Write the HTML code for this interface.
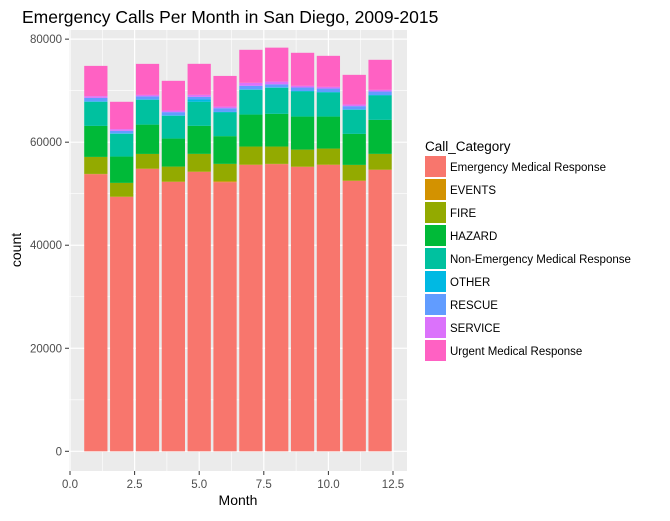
<!DOCTYPE html>
<html><head><meta charset="utf-8"><style>
body{margin:0;background:#fff;font-family:"Liberation Sans",sans-serif}
svg text{font-family:"Liberation Sans",sans-serif}
</style></head><body>
<svg id="chart" width="670" height="516" xmlns="http://www.w3.org/2000/svg">
<text x="22" y="23" font-size="17.5" fill="#000">Emergency Calls Per Month in San Diego, 2009-2015</text>
<rect x="69" y="30" width="338" height="441" fill="#EBEBEB"/>
<g id="grid"></g><g id="bars"></g><g id="axes"></g><g id="legend"></g>
<text x="238" y="505" font-size="14" text-anchor="middle" fill="#000">Month</text>
<text transform="translate(21,250) rotate(-90)" font-size="14" text-anchor="middle" fill="#000">count</text>
</svg>
<script>
const months=[1,2,3,4,5,6,7,8,9,10,11,12];
const categories=["Emergency Medical Response","EVENTS","FIRE","HAZARD","Non-Emergency Medical Response","OTHER","RESCUE","SERVICE","Urgent Medical Response"];
const colors=["#F8766D","#D39200","#93AA00","#00BA38","#00C19F","#00B9E3","#619CFF","#DB72FB","#FF61C3"];
const emr=[53790,49390,54820,52300,54240,52240,55600,55740,55210,55600,52490,54630];
const events=[50,50,50,50,50,190,50,50,50,50,50,50];
const fire=[3300,2660,2850,2910,3440,3360,3500,3360,3300,3110,3050,3050];
const hazard=[6020,5110,5690,5440,5440,5380,6210,6350,6410,6210,6020,6600];
const nonEmerg=[4660,4410,4800,4410,4660,4600,4800,5050,4860,4660,4660,4720];
const other=[100,100,100,100,450,100,100,100,100,100,100,100];
const rescue=[680,490,580,620,520,720,680,580,680,680,620,680];
const service=[330,330,290,310,390,310,580,520,330,330,310,330];
const urgent=[5880,5300,6020,5770,6020,5960,6410,6600,6410,6020,5770,5830];
const series=[emr,events,fire,hazard,nonEmerg,other,rescue,service,urgent];
const yTicks=[0,20000,40000,60000,80000];
const xTicks=[0,2.5,5,7.5,10,12.5];
const xTickLabels=["0.0","2.5","5.0","7.5","10.0","12.5"];
const NS="http://www.w3.org/2000/svg";
const X=v=>70+v*25.84, Y=v=>451.3-v*0.005152;
function mk(tag,attrs,parent){const e=document.createElementNS(NS,tag);for(const k in attrs)e.setAttribute(k,attrs[k]);parent.appendChild(e);return e;}
const grid=document.getElementById('grid'),bars=document.getElementById('bars'),axes=document.getElementById('axes'),legend=document.getElementById('legend');
for(let i=0;i<yTicks.length;i++){
 if(i<yTicks.length-1){const m=(yTicks[i]+yTicks[i+1])/2;const l=mk('line',{x1:69,x2:407,y1:Y(m),y2:Y(m),stroke:'#fff','stroke-width':0.6},grid);}
 const g=mk('line',{x1:69,x2:407,y1:Y(yTicks[i]),y2:Y(yTicks[i]),stroke:'#fff','stroke-width':1.2},grid);
 
 const t=mk('text',{x:62,y:Y(yTicks[i])+4,'font-size':11.5,'text-anchor':'end',fill:'#4D4D4D'},axes);t.textContent=yTicks[i];
 
 mk('line',{x1:65,x2:69,y1:Y(yTicks[i]),y2:Y(yTicks[i]),stroke:'#333','stroke-width':1},axes);
}
for(let i=0;i<xTicks.length;i++){
 if(i<xTicks.length-1){const m=(xTicks[i]+xTicks[i+1])/2;const l=mk('line',{x1:X(m),x2:X(m),y1:30,y2:471,stroke:'#fff','stroke-width':0.6},grid);}
 const g=mk('line',{x1:X(xTicks[i]),x2:X(xTicks[i]),y1:30,y2:471,stroke:'#fff','stroke-width':1.2},grid);
 
 mk('line',{x1:X(xTicks[i]),x2:X(xTicks[i]),y1:471,y2:475,stroke:'#333','stroke-width':1},axes);
 const t=mk('text',{x:X(xTicks[i]),y:488,'font-size':11.5,'text-anchor':'middle',fill:'#4D4D4D'},axes);t.textContent=xTickLabels[i];
 
}
months.forEach((m,i)=>{let cum=0;
 series.forEach((s,j)=>{const v=s[i];const r=mk('rect',{x:X(m-0.45),width:X(m+0.45)-X(m-0.45),y:Y(cum+v),height:Y(cum)-Y(cum+v),fill:colors[j]},bars);
  
  cum+=v;});
});
const lt=mk('text',{x:425,y:151,'font-size':13.5,fill:'#000'},legend);lt.textContent='Call_Category';

categories.forEach((c,j)=>{const y=156+j*23;
 const r=mk('rect',{x:425,y:y,width:21,height:21,fill:colors[j]},legend);
 
 const t=mk('text',{x:450,y:y+15,'font-size':11.5,fill:'#000'},legend);t.textContent=c;
 
});
</script>
</body></html>
